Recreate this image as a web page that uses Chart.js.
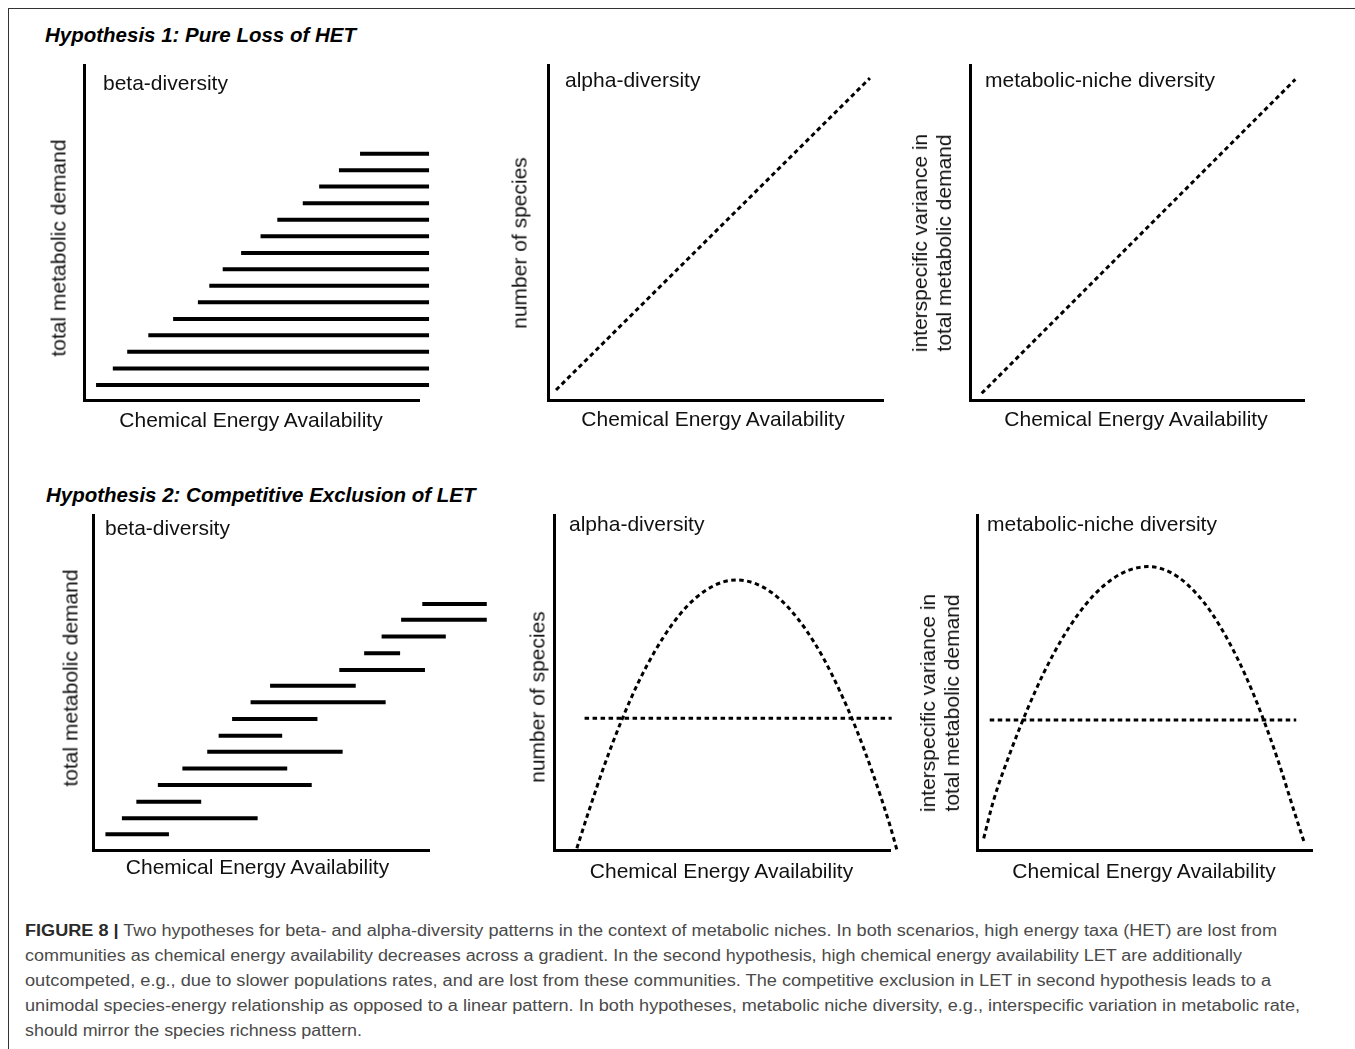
<!DOCTYPE html>
<html>
<head>
<meta charset="utf-8">
<script src="https://cdn.jsdelivr.net/npm/chart.js@4.4.1/dist/chart.umd.min.js"></script>
<style>
  html, body { margin:0; padding:0; background:#fff; }
  body { width:1355px; height:1049px; position:relative; overflow:hidden; font-family:"Liberation Sans", Arial, Helvetica, sans-serif; color:#111; }
  canvas { position:absolute; }
  .frame-top { position:absolute; left:8px; top:8px; width:1347px; height:0; border-top:1.5px solid #333; }
  .frame-left { position:absolute; left:8px; top:8px; width:0; height:1041px; border-left:1.5px solid #333; }
  .head { position:absolute; font-size:20.5px; line-height:1; font-weight:bold; font-style:italic; white-space:nowrap; color:#000; }
  .lbl { position:absolute; font-size:21px; line-height:1; white-space:nowrap; color:#111; }
  .xl { transform:translateX(-50%); }
  .yl { transform:translate(-50%,-50%) rotate(-90deg); text-align:center; }
  .yl2 { line-height:24px; }
  #caption { position:absolute; left:25px; top:917.5px; font-size:16px; line-height:25px; color:#4a4a4a; }
  #caption div { white-space:nowrap; transform-origin:0 50%; width:max-content; }
  #caption b { color:#2a2a2a; }
</style>
</head>
<body>
<div class="frame-top"></div>
<div class="frame-left"></div>

<div class="head" style="left:45px;top:25px">Hypothesis 1: Pure Loss of HET</div>
<div class="head" style="left:46px;top:485px">Hypothesis 2: Competitive Exclusion of LET</div>

<canvas id="c1"></canvas>
<canvas id="c2"></canvas>
<canvas id="c3"></canvas>
<canvas id="c4"></canvas>
<canvas id="c5"></canvas>
<canvas id="c6"></canvas>

<div class="lbl" style="left:103px;top:72px">beta-diversity</div>
<div class="lbl" style="left:565px;top:68.5px">alpha-diversity</div>
<div class="lbl" style="left:985px;top:68.5px">metabolic-niche diversity</div>
<div class="lbl" style="left:105px;top:517px">beta-diversity</div>
<div class="lbl" style="left:569px;top:513px">alpha-diversity</div>
<div class="lbl" style="left:987px;top:513px">metabolic-niche diversity</div>

<div class="lbl xl" style="left:251px;top:408.5px">Chemical Energy Availability</div>
<div class="lbl xl" style="left:713px;top:408px">Chemical Energy Availability</div>
<div class="lbl xl" style="left:1136px;top:408px">Chemical Energy Availability</div>
<div class="lbl xl" style="left:257.5px;top:856px">Chemical Energy Availability</div>
<div class="lbl xl" style="left:721.5px;top:859.5px">Chemical Energy Availability</div>
<div class="lbl xl" style="left:1144px;top:859.5px">Chemical Energy Availability</div>

<div class="lbl yl" style="left:58px;top:248px">total metabolic demand</div>
<div class="lbl yl" style="left:519px;top:243px">number of species</div>
<div class="lbl yl yl2" style="left:931.5px;top:243px">interspecific variance in<br>total metabolic demand</div>
<div class="lbl yl" style="left:70px;top:678px">total metabolic demand</div>
<div class="lbl yl" style="left:536.5px;top:697px">number of species</div>
<div class="lbl yl yl2" style="left:940px;top:703px">interspecific variance in<br>total metabolic demand</div>

<div id="caption">
  <div data-w="1252"><b>FIGURE 8 |</b> Two hypotheses for beta- and alpha-diversity patterns in the context of metabolic niches. In both scenarios, high energy taxa (HET) are lost from</div>
  <div data-w="1217">communities as chemical energy availability decreases across a gradient. In the second hypothesis, high chemical energy availability LET are additionally</div>
  <div data-w="1246">outcompeted, e.g., due to slower populations rates, and are lost from these communities. The competitive exclusion in LET in second hypothesis leads to a</div>
  <div data-w="1275">unimodal species-energy relationship as opposed to a linear pattern. In both hypotheses, metabolic niche diversity, e.g., interspecific variation in metabolic rate,</div>
  <div data-w="337">should mirror the species richness pattern.</div>
</div>

<script>
// values, both axes run 0..100 from the axis corner

// Hypothesis 1, beta-diversity: one bar per taxon
const h1BetaLevels = [73.5, 68.6, 63.7, 58.7, 53.8, 48.9, 43.9, 39.0, 34.1, 29.2, 24.2, 19.3, 14.4, 9.4, 4.5];
const h1BetaStarts = [82.4, 76.1, 70.2, 65.3, 57.7, 52.7, 46.9, 41.4, 37.4, 34.0, 26.6, 19.2, 12.9, 8.6, 3.6];
const h1BetaEnds   = [103, 103, 103, 103, 103, 103, 103, 103, 103, 103, 103, 103, 103, 103, 103];

// Hypothesis 1, alpha and metabolic-niche: straight dashed lines
const h1AlphaX = [2.4, 96.1];
const h1AlphaY = [3.0, 96.1];
const h1NicheX = [3.5, 97.4];
const h1NicheY = [2.0, 95.7];

// Hypothesis 2, beta-diversity
const h2BetaLevels = [73.4, 68.7, 63.7, 58.7, 53.7, 49.0, 44.1, 39.1, 34.1, 29.3, 24.3, 19.4, 14.4, 9.5, 4.7];
const h2BetaStarts = [98.0, 91.7, 85.9, 80.7, 73.3, 52.7, 46.9, 41.4, 37.4, 34.0, 26.6, 19.3, 12.9, 8.6, 3.7];
const h2BetaEnds   = [117.2, 117.2, 105.0, 91.4, 98.8, 78.2, 87.1, 66.8, 56.3, 74.3, 57.8, 65.1, 32.2, 49.0, 22.6];

// Hypothesis 2, alpha-diversity: hump curve + flat reference
const h2AlphaX = [6.8, 10, 15, 20, 25, 30, 35, 40, 45, 50, 54.5, 60, 65, 70, 75, 80, 85, 90, 95, 100, 102.2];
const h2AlphaY = [0.5, 10.5, 25.3, 38.4, 49.8, 59.3, 67.1, 73.2, 77.4, 79.9, 80.6, 79.5, 76.7, 72.1, 65.7, 57.6, 47.6, 36.0, 22.5, 7.3, -0.5];
const h2AlphaFlatX = [9.1, 100.5];
const h2AlphaFlatY = [39.3, 39.3];

// Hypothesis 2, metabolic-niche diversity
const h2NicheX = [2, 5, 10, 15, 20, 25, 30, 35, 40, 45, 51, 55, 60, 65, 70, 75, 80, 85, 90, 95, 97.6];
const h2NicheY = [3.5, 15.0, 29.3, 41.9, 53.0, 62.4, 70.1, 76.2, 80.6, 83.4, 84.6, 84.0, 81.5, 77.1, 70.8, 62.5, 52.4, 40.3, 26.3, 10.5, 2.5];
const h2NicheFlatX = [3.8, 95.3];
const h2NicheFlatY = [38.8, 38.8];

// axis boxes in page pixels: left, top, right, bottom
const boxes = {
  c1:[84, 65, 419, 400],  c2:[548, 65, 883, 400],  c3:[970, 65, 1304, 400],
  c4:[93, 515, 429, 850], c5:[554, 515, 890, 850], c6:[977, 515, 1312, 850]
};
const pad = {left:20, top:10, right:70, bottom:20};

function pts(xs, ys){ return xs.map((x,i)=>({x, y:ys[i]})); }

function barSets(levels, starts, ends){
  return levels.map((y,i)=>({
    data:[{x:starts[i], y}, {x:ends[i], y}],
    showLine:true, borderColor:'#000', borderWidth:4, borderCapStyle:'butt',
    pointRadius:0, clip:false
  }));
}

function dashed(xs, ys, smooth){
  return {
    data:pts(xs, ys), showLine:true, borderColor:'#000', borderWidth:3,
    borderDash:[4.5,3.5], borderCapStyle:'butt', pointRadius:0, clip:false,
    cubicInterpolationMode: smooth ? 'monotone' : 'default'
  };
}

// range fixed after the data limits, so points past the axis end are still laid out
function fixRange(scale){ scale.min = 0; scale.max = 100; }

function panel(id, datasets){
  const [l,t,r,b] = boxes[id];
  const el = document.getElementById(id);
  const w = r-l+pad.left+pad.right, h = b-t+pad.top+pad.bottom;
  el.width = w; el.height = h;
  el.style.left = (l-pad.left)+'px'; el.style.top = (t-pad.top)+'px';
  el.style.width = w+'px'; el.style.height = h+'px';
  const axis = {
    type:'linear', bounds:'data', afterDataLimits:fixRange,
    ticks:{display:false}, grid:{display:false, drawTicks:false, tickLength:0},
    border:{display:true, width:3, color:'#000'}, title:{display:false}
  };
  return new Chart(el, {
    type:'scatter',
    data:{datasets},
    options:{
      responsive:false, animation:false,
      layout:{padding:pad, autoPadding:false},
      plugins:{legend:{display:false}, tooltip:{enabled:false}},
      scales:{x:{...axis, position:'bottom'}, y:{...axis, position:'left'}}
    }
  });
}

panel('c1', barSets(h1BetaLevels, h1BetaStarts, h1BetaEnds));
panel('c2', [dashed(h1AlphaX, h1AlphaY)]);
panel('c3', [dashed(h1NicheX, h1NicheY)]);
panel('c4', barSets(h2BetaLevels, h2BetaStarts, h2BetaEnds));
panel('c5', [dashed(h2AlphaX, h2AlphaY, true), dashed(h2AlphaFlatX, h2AlphaFlatY)]);
panel('c6', [dashed(h2NicheX, h2NicheY, true), dashed(h2NicheFlatX, h2NicheFlatY)]);

// caption lines squeezed to the widths of the printed ones
document.querySelectorAll('#caption div').forEach(d=>{
  const target = +d.dataset.w;
  const w = d.getBoundingClientRect().width;
  if(w) d.style.transform = `scaleX(${target/w})`;
});
</script>
</body>
</html>
